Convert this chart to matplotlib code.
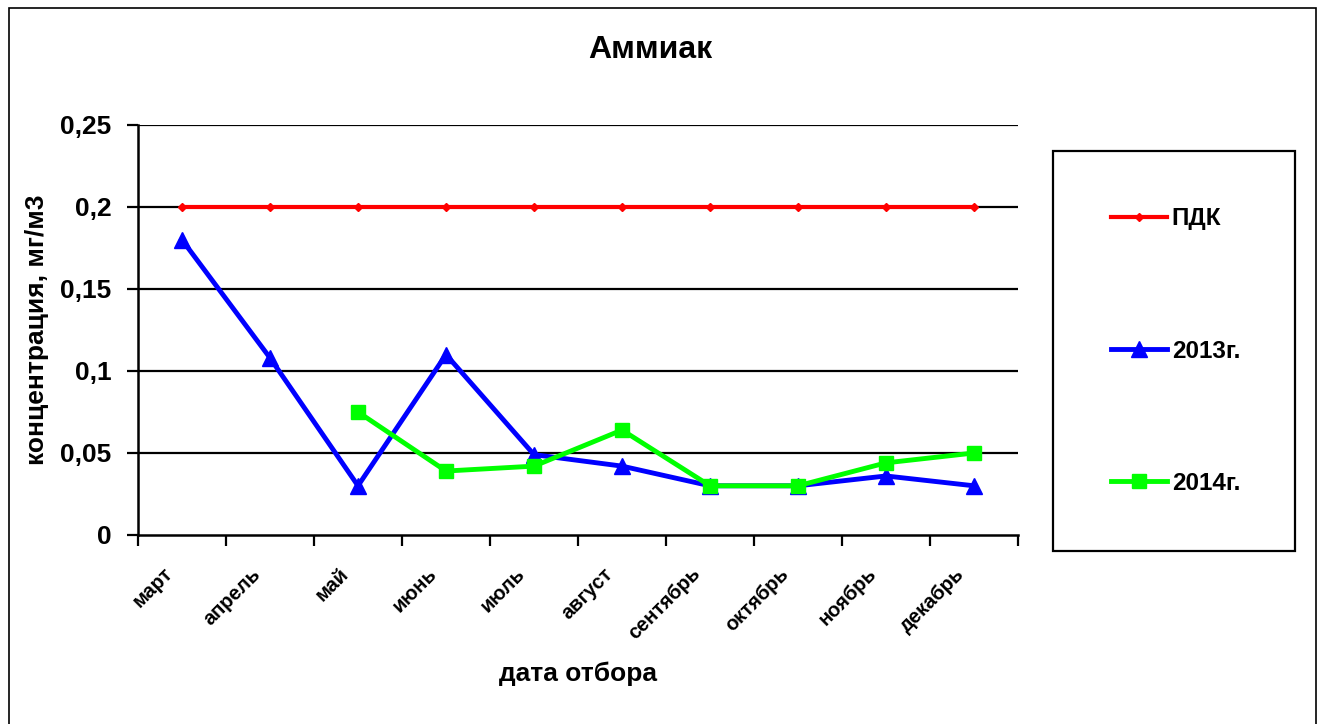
import numpy as np
import matplotlib.pyplot as plt
import matplotlib.transforms as mtransforms
from matplotlib.patches import Rectangle

plt.rcParams['font.family'] = ['Liberation Sans', 'DejaVu Sans']
plt.rcParams['font.weight'] = 'bold'

# Data
months = ['март', 'апрель', 'май', 'июнь', 'июль', 'август',
          'сентябрь', 'октябрь', 'ноябрь', 'декабрь']
pdk = [0.2, 0.2, 0.2, 0.2, 0.2, 0.2, 0.2, 0.2, 0.2, 0.2]
y2013 = [0.18, 0.108, 0.03, 0.11, 0.049, 0.042, 0.03, 0.03, 0.036, 0.03]
y2014 = [np.nan, np.nan, 0.075, 0.039, 0.042, 0.064, 0.03, 0.03, 0.044, 0.05]
yticks = [0, 0.05, 0.1, 0.15, 0.2, 0.25]
ytick_labels = ['0', '0,05', '0,1', '0,15', '0,2', '0,25']

fig = plt.figure(figsize=(13.18, 7.24), dpi=100)
ax = fig.add_axes([138/1318, 1 - 535/724, 880/1318, 410/724])

x = np.arange(len(months))

# gridlines
for v in yticks[1:]:
    ax.axhline(v, color='black', lw=1.6, zorder=1)

l1, = ax.plot(x, pdk, '-D', color='#ff0000', lw=3, markersize=4.5, label='ПДК', zorder=3)
l2, = ax.plot(x, y2013, '-^', color='#0000ff', lw=3.5, markersize=11, label='2013г.', zorder=4)
l3, = ax.plot(x, y2014, '-s', color='#00ff00', lw=3.5, markersize=10, label='2014г.', zorder=5)

ax.set_xlim(-0.5, len(months) - 0.5)
ax.set_ylim(0, 0.25)

ax.set_xticks(np.arange(-0.5, len(months), 1))
ax.set_xticklabels([])
ax.set_xticks(x, minor=True)
ax.tick_params(axis='x', which='major', direction='out', length=8, width=1.6)
ax.tick_params(axis='x', which='minor', length=0, pad=21)
ax.set_xticklabels(months, minor=True, rotation=45, ha='right', va='top',
                   fontsize=14.5, fontweight='bold', rotation_mode='anchor')
# nudge month labels left, like Excel does (after tick_params, which resets transforms)
shift = mtransforms.ScaledTranslation(-19/100, 0, fig.dpi_scale_trans)
for lbl in ax.get_xticklabels(minor=True):
    lbl.set_transform(lbl.get_transform() + shift)

ax.set_yticks(yticks)
ax.set_yticklabels(ytick_labels, fontsize=19, fontweight='bold')
ax.tick_params(axis='y', direction='out', length=8, width=1.6, pad=11)

for s in ['top', 'right']:
    ax.spines[s].set_visible(False)
for s in ['left', 'bottom']:
    ax.spines[s].set_linewidth(1.8)

ax.set_ylabel('концентрация, мг/м3', fontsize=19, fontweight='bold', labelpad=8)
ax.set_xlabel('дата отбора', fontsize=19, fontweight='bold', labelpad=13)
fig.text(650/1318, 1 - 50/724, 'Аммиак', ha='center', va='center',
         fontsize=23, fontweight='bold')

# legend box
fig.patches.append(Rectangle((1053/1318, 1 - 551/724), 242/1318, 400/724,
                             transform=fig.transFigure, fill=False,
                             edgecolor='black', lw=1.6))
fig.legend(handles=[l1, l2, l3], loc='center left',
           bbox_to_anchor=(1089/1318, 1 - 351/724), frameon=False,
           labelspacing=4.5, handlelength=2.3, handletextpad=0.2,
           prop={'weight': 'bold', 'size': 17.5})

# outer chart border
fig.patches.append(Rectangle((9/1318, -0.05), 1307/1318, 1 - 8/724 + 0.05,
                             transform=fig.transFigure, fill=False,
                             edgecolor='black', lw=1.2))

fig.savefig('out.png', dpi=100)
